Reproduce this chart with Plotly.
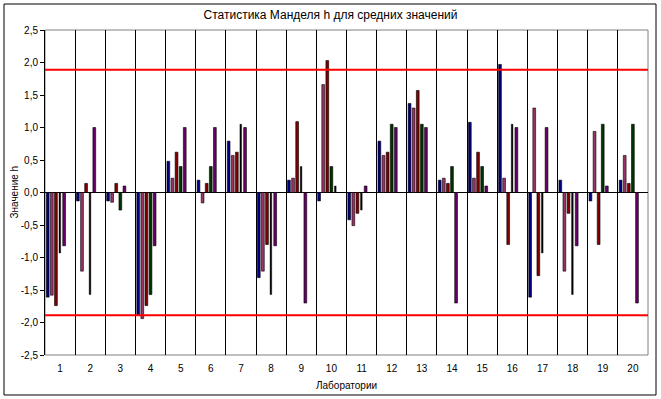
import plotly.graph_objects as go

labs = [str(i) for i in range(1, 21)]

blue = [-1.61, -0.13, -0.13, -1.88, 0.48, 0.19, 0.79, -1.31, 0.19, -0.13,
        -0.42, 0.79, 1.37, 0.19, 1.08, 1.97, -1.61, 0.19, -0.13, 0.19]
pink = [-1.58, -1.21, -0.15, -1.94, 0.22, -0.16, 0.57, -1.21, 0.22, 1.66,
        -0.51, 0.57, 1.30, 0.22, 0.22, 0.22, 1.30, -1.21, 0.94, 0.57]
red = [-1.74, 0.14, 0.14, -1.74, 0.62, 0.14, 0.62, -0.80, 1.09, 2.03,
       -0.32, 0.62, 1.57, 0.14, 0.62, -0.80, -1.28, -0.32, -0.80, 0.14]
green = [None, None, -0.27, -1.57, 0.40, 0.40, None, None, None, 0.40,
         None, 1.05, 1.05, 0.40, 0.40, None, None, None, 1.05, 1.05]
black = [-0.93, -1.57, None, None, None, None, 1.05, -1.57, 0.40, 0.10,
         -0.27, None, None, None, None, 1.05, -0.93, -1.57, None, None]
purple = [-0.82, 1.00, 0.10, -0.82, 1.00, 1.00, 1.00, -0.82, -1.70, None,
          0.10, 1.00, 1.00, -1.70, 0.10, 1.00, 1.00, -0.82, 0.10, -1.70]

h_crit = 1.89

y_ticks = [2.5, 2.0, 1.5, 1.0, 0.5, 0.0, -0.5, -1.0, -1.5, -2.0, -2.5]
y_ticktext = [f"{v:.1f}".replace(".", ",") for v in y_ticks]

FONT = "Liberation Sans, Arial, sans-serif"
W, H = 661, 399
L, R, T, B = 45, 13, 30, 44
PW, PH = W - L - R, H - T - B

SLOT0, STEP, BW = -0.455, 0.136, 0.092

fig = go.Figure()

series = [(blue, "#000080", 0), (pink, "#993366", 1), (red, "#800000", 2),
          (green, "#003300", 3), (purple, "#660066", 4)]
for vals, col, k in series:
    fig.add_trace(go.Bar(
        x=labs, y=vals, offset=SLOT0 + STEP * k, width=BW,
        marker=dict(color=col, line=dict(color="black", width=0.6)),
        showlegend=False, hoverinfo="y"))

# black bars take the free slot (4th if no green bar, else 5th)
black_off = [SLOT0 + STEP * (3 if g is None else 4) + 0.012 for g in green]
fig.add_trace(go.Bar(
    x=labs, y=black, offset=black_off, width=0.055,
    marker=dict(color="black", line=dict(color="black", width=0.4)),
    showlegend=False, hoverinfo="y"))

for v in (h_crit, -h_crit):
    fig.add_shape(type="line", xref="paper", yref="y", x0=0, x1=1, y0=v, y1=v,
                  line=dict(color="#FF0000", width=2), layer="above")

# plot-area border (grey) and outer chart frame
fig.add_shape(type="rect", xref="paper", yref="paper", x0=0, x1=1, y0=0, y1=1,
              line=dict(color="#808080", width=1), layer="below")
fig.add_shape(type="rect", xref="paper", yref="paper",
              x0=(4 - L) / PW, x1=(656 - L) / PW,
              y0=(H - B - 395) / PH, y1=(H - B - 4) / PH,
              line=dict(color="black", width=1))

fig.add_annotation(text="Лаборатории", xref="paper", yref="paper",
                   x=0.5, y=(H - B - 385) / PH, xanchor="center",
                   yanchor="middle", showarrow=False,
                   font=dict(family=FONT, size=10, color="black"))
fig.add_annotation(text="Значение h", xref="paper", yref="paper",
                   x=(14 - L) / PW, y=0.5, xanchor="center", yanchor="middle",
                   textangle=-90, showarrow=False,
                   font=dict(family=FONT, size=10, color="black"))

fig.update_layout(
    width=W, height=H,
    margin=dict(l=L, r=R, t=T, b=B),
    paper_bgcolor="white", plot_bgcolor="white",
    barmode="overlay",
    title=dict(text="Статистика Манделя h для средних значений",
               x=0.5, xref="container", y=1 - 15 / H, yref="container",
               xanchor="center", yanchor="middle",
               font=dict(family=FONT, size=12, color="black")),
    font=dict(family=FONT, size=10, color="black"),
    xaxis=dict(type="category", tickson="boundaries", showgrid=True,
               gridcolor="black", gridwidth=1, ticks="", showline=False,
               zeroline=False, tickfont=dict(size=10),
               ticklabelstandoff=6),
    yaxis=dict(range=[-2.5, 2.5], tickvals=y_ticks, ticktext=y_ticktext,
               showgrid=False, zeroline=True, zerolinecolor="black",
               zerolinewidth=1, showline=True, linecolor="black",
               linewidth=1, ticks="outside", ticklen=4, tickcolor="black",
               tickfont=dict(size=10)),
)

fig.write_html("out.html", config={"displayModeBar": False},
               post_script="document.body.style.margin='0';"
                           "document.body.style.overflow='hidden';")
